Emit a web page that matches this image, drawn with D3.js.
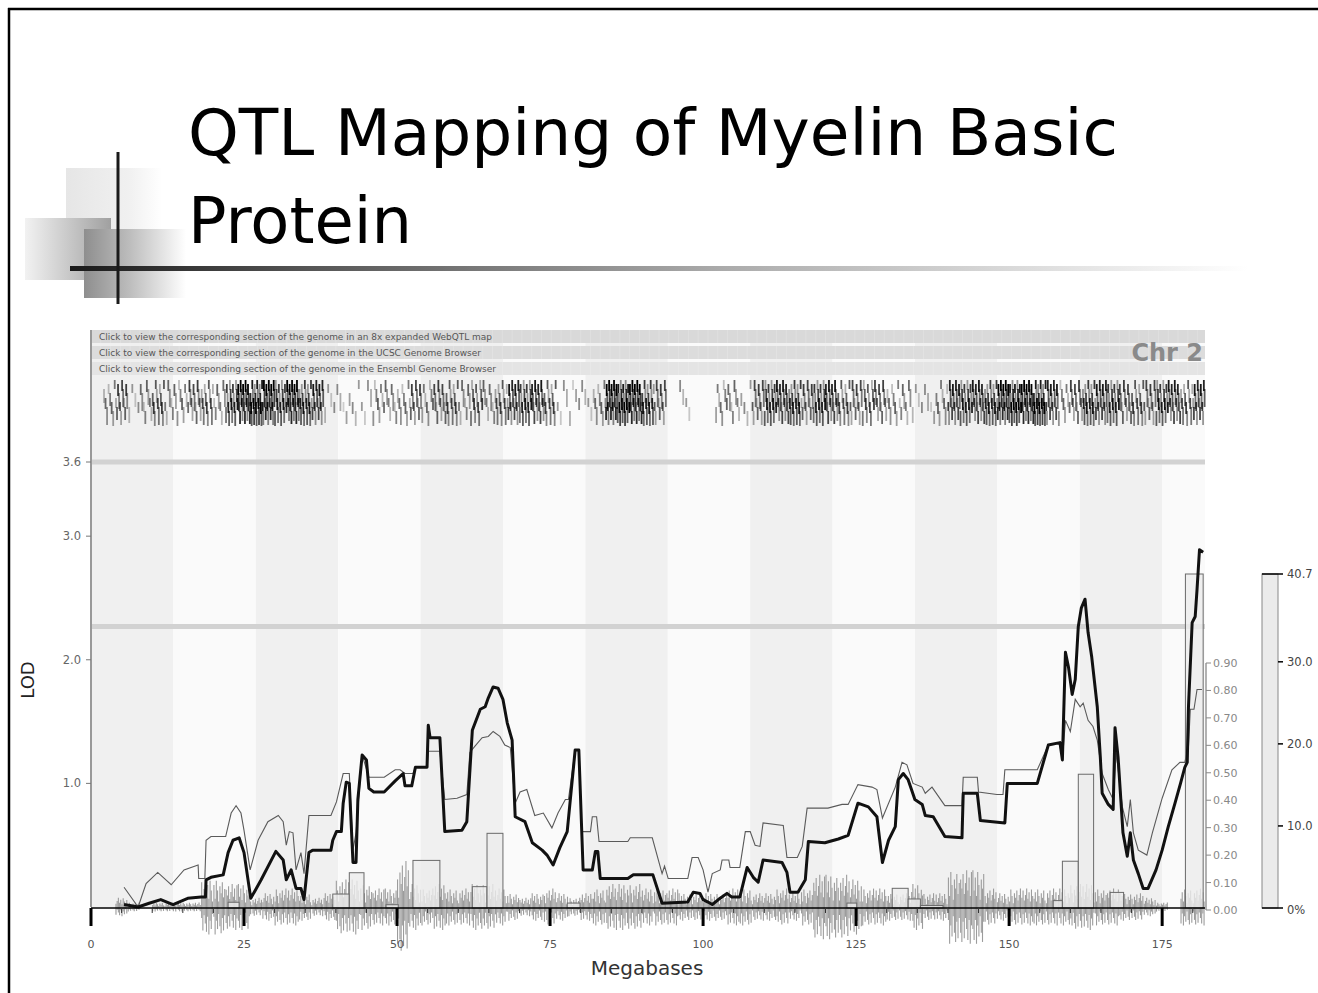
<!DOCTYPE html>
<html lang="en">
<head>
<meta charset="UTF-8">
<title>QTL Mapping of Myelin Basic Protein</title>
<style>
  html, body { margin: 0; padding: 0; background: #fff; }
  svg { display: block; }
  text { font-family: "DejaVu Sans", Verdana, sans-serif; }
</style>
</head>
<body>
<svg id="slide" width="1318" height="993"></svg>
<script src="https://cdnjs.cloudflare.com/ajax/libs/d3/7.8.5/d3.min.js"></script>
<script>
// ---- data ----
const titleLines = ['QTL Mapping of Myelin Basic', 'Protein']
const linkLabels = [
  'Click to view the corresponding section of the genome in an 8x expanded WebQTL map',
  'Click to view the corresponding section of the genome in the UCSC Genome Browser',
  'Click to view the corresponding section of the genome in the Ensembl Genome Browser'
]
const chrLabel = 'Chr 2'
const chrLength = 182
const mbTicks = [0, 25, 50, 75, 100, 125, 150, 175]
const lodTicks = [1.0, 2.0, 3.0, 3.6]
const thresholds = [3.6, 2.27]
const addTicks = [0, 0.1, 0.2, 0.3, 0.4, 0.5, 0.6, 0.7, 0.8, 0.9]
const bootTicks = [0, 10, 20, 30, 40.7]

// thick line: [Mb, LOD]
const lodTrace = [[5.4,0.02],[7.7,0],[9.5,0.03],[11.4,0.06],[13.4,0.02],[15.8,0.07],[18.0,0.08],[18.7,0.08],[18.8,0.22],[19.6,0.24],[21.6,0.26],[22.4,0.44],[23.2,0.54],[24.2,0.56],[25.0,0.44],[26.1,0.07],[27.8,0.22],[30.2,0.45],[31.4,0.38],[31.9,0.22],[32.7,0.30],[33.5,0.15],[34.3,0.15],[34.8,0.06],[35.6,0.44],[36.2,0.46],[39.2,0.46],[39.5,0.54],[40.1,0.61],[40.9,0.61],[41.2,0.84],[41.7,1.01],[42.2,1.0],[42.8,0.36],[43.3,0.36],[43.6,0.87],[44.3,1.23],[45.0,1.19],[45.4,0.96],[46.2,0.93],[47.9,0.93],[49.7,1.02],[51.0,1.08],[51.3,0.98],[52.4,0.98],[53.0,1.13],[54.9,1.13],[55.1,1.47],[55.4,1.37],[57.0,1.37],[57.8,0.61],[60.6,0.62],[61.4,0.69],[62.3,1.43],[63.6,1.6],[64.4,1.62],[64.9,1.69],[65.7,1.78],[66.5,1.77],[67.3,1.68],[68.0,1.49],[68.8,1.35],[69.3,0.73],[70.9,0.69],[72.1,0.52],[73.7,0.46],[74.5,0.42],[75.5,0.34],[76.6,0.48],[77.8,0.61],[79.1,1.27],[79.7,1.27],[80.4,0.30],[81.9,0.30],[82.4,0.45],[82.8,0.45],[83.2,0.23],[87.7,0.23],[88.6,0.26],[91.8,0.26],[93.3,0.03],[97.5,0.04],[98.4,0.12],[99.5,0.11],[100.0,0.06],[100.8,0.04],[101.5,0.02],[102.5,0.06],[103.9,0.11],[104.7,0.08],[106.0,0.08],[107.2,0.32],[108.2,0.24],[109.0,0.20],[109.8,0.38],[112.9,0.36],[113.7,0.28],[114.2,0.12],[115.5,0.12],[116.7,0.22],[117.2,0.53],[119.9,0.52],[122.1,0.55],[123.7,0.58],[125.3,0.84],[127.0,0.81],[128.4,0.73],[129.3,0.36],[130.3,0.54],[131.4,0.65],[131.9,1.03],[132.7,1.08],[133.5,1.03],[134.6,0.87],[135.8,0.83],[136.3,0.74],[137.6,0.73],[139.5,0.57],[142.3,0.56],[142.5,0.92],[144.8,0.92],[145.3,0.70],[149.3,0.68],[149.7,1.0],[154.6,1.0],[156.4,1.31],[158.3,1.33],[158.7,1.19],[159.2,2.06],[159.7,1.94],[160.3,1.72],[160.8,1.84],[161.3,2.27],[161.8,2.42],[162.4,2.49],[162.9,2.22],[163.5,2.02],[164.4,1.62],[164.9,1.21],[165.2,0.92],[166.2,0.83],[167.0,0.79],[167.3,1.45],[167.8,1.21],[168.6,0.60],[169.3,0.41],[169.8,0.60],[170.3,0.38],[171.1,0.27],[171.9,0.15],[172.7,0.15],[174.0,0.30],[175.0,0.46],[176.0,0.65],[177.1,0.84],[178.0,1.0],[178.7,1.13],[179.1,1.17],[179.3,1.62],[179.9,2.30],[180.4,2.35],[180.7,2.57],[181.1,2.89],[181.7,2.87]]

// thin line: [Mb, LOD]
const thinTrace = [[5.4,0.16],[7.7,0.0],[9.0,0.19],[10.9,0.28],[13.1,0.18],[15.2,0.30],[17.5,0.34],[17.6,0.23],[18.6,0.23],[18.8,0.54],[19.6,0.57],[22.0,0.57],[22.9,0.76],[23.7,0.82],[24.5,0.76],[25.0,0.62],[26.0,0.30],[27.3,0.54],[28.9,0.69],[30.6,0.74],[31.4,0.69],[31.9,0.50],[32.4,0.61],[33.0,0.60],[33.5,0.30],[34.3,0.44],[34.8,0.27],[35.6,0.74],[39.2,0.74],[40.1,0.85],[41.2,1.08],[42.2,1.08],[42.8,0.46],[43.3,0.60],[44.3,1.23],[45.4,1.05],[47.9,1.05],[49.7,1.11],[50.5,1.11],[51.3,1.08],[52.6,1.08],[53.0,1.13],[54.9,1.13],[55.1,1.26],[57.0,1.26],[57.8,0.87],[59.8,0.88],[61.4,0.91],[61.9,1.25],[62.7,1.30],[63.9,1.37],[64.9,1.38],[65.7,1.42],[66.8,1.38],[67.6,1.31],[68.5,1.29],[69.3,0.84],[70.1,0.93],[71.2,0.95],[72.5,0.74],[73.9,0.76],[75.3,0.64],[76.3,0.76],[77.5,0.87],[78.0,0.87],[79.1,1.27],[79.7,1.27],[80.2,0.61],[81.6,0.61],[81.9,0.73],[82.6,0.73],[83.0,0.53],[87.7,0.53],[88.1,0.56],[91.7,0.56],[93.3,0.27],[93.7,0.33],[94.3,0.23],[97.5,0.23],[98.2,0.40],[99.2,0.40],[100.0,0.30],[100.8,0.12],[101.5,0.27],[102.8,0.30],[103.1,0.38],[104.2,0.38],[104.4,0.32],[106.0,0.32],[106.9,0.61],[107.7,0.61],[108.5,0.50],[109.3,0.49],[109.8,0.68],[113.1,0.66],[113.7,0.40],[115.4,0.40],[116.2,0.49],[117.0,0.80],[120.4,0.80],[122.7,0.83],[123.7,0.83],[125.3,0.99],[127.6,0.97],[128.4,0.95],[129.3,0.72],[131.4,0.97],[132.5,1.17],[133.3,1.15],[134.3,1.00],[135.8,0.97],[136.3,0.92],[137.4,0.97],[139.5,0.82],[142.3,0.82],[142.5,1.05],[144.8,1.05],[145.0,0.93],[148.0,0.91],[149.0,0.91],[149.3,1.11],[154.6,1.11],[156.4,1.31],[158.3,1.33],[158.7,1.19],[159.2,1.51],[160.0,1.42],[160.8,1.68],[161.6,1.62],[162.1,1.65],[162.9,1.51],[163.7,1.46],[164.4,1.35],[165.2,1.08],[166.2,0.95],[167.0,0.87],[167.5,1.25],[168.5,0.81],[169.3,0.65],[169.8,0.87],[170.3,0.60],[171.1,0.46],[172.5,0.42],[173.4,0.60],[175.0,0.88],[176.6,1.11],[177.9,1.17],[178.7,1.17],[179.3,1.30],[179.6,1.60],[180.2,1.60],[180.7,1.76],[181.5,1.76]]

// bootstrap histogram: [start Mb, end Mb, percent]
const bootBars = [[22.4,24.2,0.7],[39.5,42.2,1.7],[42.2,44.6,4.3],[48.2,50.2,0.4],[52.6,57.0,5.8],[62.3,64.7,2.6],[64.7,67.3,9.1],[77.8,79.9,0.6],[123.5,125.1,0.6],[130.9,133.5,2.4],[133.5,135.5,1.1],[135.5,139.2,0.3],[157.2,158.7,0.9],[158.7,161.3,5.7],[161.3,163.8,16.3],[166.5,168.7,1.9],[178.8,181.7,40.7]]

// gene density per 2 Mb bin (0-5), read from the gene track
const geneDensity = [0,2,3,1,2,3,2,2,3,3,2,4,5,5,5,4,5,4,4,1,1,1,1,2,2,2,3,2,3,3,2,3,2,3,4,4,4,3,1,1,1,2,5,5,5,4,3,0,1,0,0,2,2,1,3,4,4,4,3,4,4,3,3,3,3,2,2,1,1,2,4,4,4,4,5,5,5,5,4,2,3,4,4,4,3,3,3,4,4,3,4]

// SNP seismograph amplitude per 2 Mb bin (0-10)
const snpAmp = [0,0,2,1,0,1,1,1,1,6,6,5,5,2,3,4,4,3,2,3,6,6,5,4,4,10,5,4,5,4,4,5,5,4,3,2,3,4,3,2,3,4,5,5,5,4,4,4,3,3,3,3,4,4,3,3,4,3,4,7,7,7,6,4,4,3,3,5,3,3,8,8,8,4,3,4,4,4,4,4,5,5,4,4,3,3,2,1,0,4,4]

// ---- layout ----
const svg = d3.select('#slide')
const plot = { left: 91, right: 1205, top: 330, bottom: 907 }

const x = d3.scaleLinear().domain([0, chrLength]).range([plot.left, plot.right])
const y = d3.scaleLinear().domain([0, 3.6]).range([plot.bottom, 462])
const yAdd = d3.scaleLinear().domain([0, 0.9]).range([910, 663])
const yBoot = d3.scaleLinear().domain([0, 40.7]).range([908, 574])
const snpScale = d3.scaleLinear().domain([0, 10]).range([0, 46])

const defs = svg.append('defs')
function grad(id, stops) {
  const g = defs.append('linearGradient').attr('id', id)
    .attr('x1', '0%').attr('x2', '100%').attr('y1', '0%').attr('y2', '0%')
  stops.forEach(s => g.append('stop').attr('offset', s[0]).attr('stop-color', s[1]))
}
grad('gLight', [['0%', '#e6e6e6'], ['65%', '#f0f0f0'], ['100%', '#ffffff']])
grad('gMid', [['0%', '#f2f2f2'], ['100%', '#a0a0a0']])
grad('gDark', [['0%', '#8e8e8e'], ['45%', '#bdbdbd'], ['100%', '#ffffff']])
grad('gRule', [['0%', '#1a1a1a'], ['20%', '#555'], ['55%', '#aaa'], ['100%', '#ffffff']])

// slide frame
svg.append('line').attr('x1', 8).attr('x2', 1318).attr('y1', 9).attr('y2', 9)
  .attr('stroke', '#000').attr('stroke-width', 2.5)
svg.append('line').attr('x1', 9).attr('x2', 9).attr('y1', 8).attr('y2', 993)
  .attr('stroke', '#000').attr('stroke-width', 2.5)

// decoration
svg.append('rect').attr('x', 66).attr('y', 168).attr('width', 96).attr('height', 110).attr('fill', 'url(#gLight)')
svg.append('rect').attr('x', 25).attr('y', 218).attr('width', 86).attr('height', 62).attr('fill', 'url(#gMid)')
svg.append('rect').attr('x', 84).attr('y', 229).attr('width', 102).attr('height', 69).attr('fill', 'url(#gDark)')
svg.append('rect').attr('x', 70).attr('y', 266).attr('width', 1178).attr('height', 5).attr('fill', 'url(#gRule)')
svg.append('line').attr('x1', 118).attr('x2', 118).attr('y1', 152).attr('y2', 304)
  .attr('stroke', '#1a1a1a').attr('stroke-width', 3)

// title
svg.selectAll('.title').data(titleLines).enter().append('text')
  .attr('class', 'title')
  .attr('x', 188)
  .attr('y', (d, i) => 155 + i * 88)
  .attr('font-size', 64)
  .attr('fill', '#000')
  .attr('textLength', (d, i) => i === 0 ? 930 : 224)
  .attr('lengthAdjust', 'spacingAndGlyphs')
  .text(d => d)

// ---- chart ----
const chart = svg.append('g')

// alternating background bands
const bandW = chrLength / 13.52
const bands = d3.range(Math.ceil(chrLength / bandW)).map(i => [i * bandW, Math.min(chrLength, (i + 1) * bandW)])
chart.selectAll('.band').data(bands).enter().append('rect')
  .attr('x', d => x(d[0])).attr('width', d => x(d[1]) - x(d[0]))
  .attr('y', plot.top).attr('height', plot.bottom - plot.top)
  .attr('fill', (d, i) => i % 2 ? '#fafafa' : '#f0f0f0')

// link bars
const linkFill = ['#d9d9d9', '#dcdcdc', '#e4e4e4']
const linkWidth = [393, 382, 397]
linkLabels.forEach((t, i) => {
  const top = plot.top + i * 16
  chart.append('rect').attr('x', plot.left).attr('y', top)
    .attr('width', plot.right - plot.left).attr('height', 13).attr('fill', linkFill[i])
  chart.selectAll('.ls' + i).data(d3.range(0, chrLength, 1.6)).enter().append('line')
    .attr('x1', d => x(d)).attr('x2', d => x(d)).attr('y1', top).attr('y2', top + 13)
    .attr('stroke', '#ffffff').attr('stroke-opacity', 0.18).attr('stroke-width', 1)
  chart.append('text').attr('x', plot.left + 8).attr('y', top + 9.5)
    .attr('font-size', 8.4).attr('fill', '#555')
    .attr('textLength', linkWidth[i]).attr('lengthAdjust', 'spacingAndGlyphs').text(t)
})
chart.append('text').attr('x', plot.right - 2).attr('y', 361)
  .attr('text-anchor', 'end').attr('font-size', 24).attr('font-weight', 'bold')
  .attr('fill', '#8a8a8a').text(chrLabel)

// gene track (density as staggered gene ticks)
const geneG = chart.append('g')
const gRow = [0, 9, 18, 27, 4, 13, 22, 31]
const gLen = [12, 16, 9, 14, 11, 18, 10, 13]
const gShade = [1, 0.6, 0.85, 0.45, 0.95, 0.7, 0.4, 0.8]
geneDensity.forEach((d, i) => {
  const n = d * 4
  const x0 = x(i * 2), x1 = x(Math.min(chrLength, i * 2 + 2))
  for (let k = 0; k < n; k++) {
    const p = (k + i * 3) % gRow.length
    const gx = x0 + (k + 0.5) * (x1 - x0) / n
    const gy = 380 + gRow[(k + i) % gRow.length]
    geneG.append('line')
      .attr('x1', gx).attr('x2', gx).attr('y1', gy).attr('y2', Math.min(426, gy + gLen[p]))
      .attr('stroke', '#000').attr('stroke-width', 1.8)
      .attr('stroke-opacity', Math.min(1, (0.3 + d * 0.15) * gShade[p]))
  }
})

// threshold lines
chart.selectAll('.thr').data(thresholds).enter().append('line')
  .attr('x1', plot.left).attr('x2', plot.right)
  .attr('y1', d => y(d)).attr('y2', d => y(d))
  .attr('stroke', '#d2d2d2').attr('stroke-width', 5)

// SNP seismograph
const upPat = [1, 0.45, 0.8, 0.3, 0.95, 0.6, 0.2, 0.75, 0.5, 0.9, 0.35, 0.65]
const dnPat = [0.6, 0.9, 0.35, 1, 0.5, 0.8, 0.25, 0.7, 0.95, 0.4, 0.85, 0.3]
const snpG = chart.append('g')
snpAmp.forEach((a, i) => {
  if (!a) return
  const x0 = x(i * 2), x1 = x(Math.min(chrLength, i * 2 + 2))
  let j = 0
  for (let px = x0 + 0.5; px < x1; px += 1.2, j++) {
    const p = (j + i * 5) % upPat.length
    snpG.append('line').attr('x1', px).attr('x2', px)
      .attr('y1', plot.bottom - snpScale(a) * upPat[p])
      .attr('y2', plot.bottom + snpScale(a) * dnPat[p])
      .attr('stroke', '#9c9c9c').attr('stroke-width', 1.1)
  }
})

// bootstrap bars
chart.selectAll('.boot').data(bootBars).enter().append('rect')
  .attr('x', d => x(d[0])).attr('width', d => x(d[1]) - x(d[0]))
  .attr('y', d => yBoot(d[2])).attr('height', d => yBoot(0) - yBoot(d[2]))
  .attr('fill', '#ececec').attr('fill-opacity', 0.8)
  .attr('stroke', '#6a6a6a').attr('stroke-width', 1)

// LOD curves
const line = d3.line().x(d => x(d[0])).y(d => y(d[1]))
chart.append('path').datum(thinTrace).attr('d', line)
  .attr('fill', 'none').attr('stroke', '#5a5a5a').attr('stroke-width', 1.1)
chart.append('path').datum(lodTrace).attr('d', line)
  .attr('fill', 'none').attr('stroke', '#111').attr('stroke-width', 3)
  .attr('stroke-linejoin', 'round')

// left LOD axis
const yAxis = chart.append('g').attr('transform', `translate(${plot.left},0)`)
yAxis.append('line').attr('y1', plot.top).attr('y2', plot.bottom).attr('stroke', '#999').attr('stroke-width', 2)
yAxis.selectAll('.yt').data(lodTicks).enter().append('line')
  .attr('x1', -5).attr('x2', 0).attr('y1', d => y(d)).attr('y2', d => y(d)).attr('stroke', '#777')
yAxis.selectAll('.yl').data(lodTicks).enter().append('text')
  .attr('x', -10).attr('y', d => y(d) + 4).attr('text-anchor', 'end')
  .attr('font-size', 11.5).attr('fill', '#666').text(d => d.toFixed(1))
svg.append('text').attr('transform', 'translate(34,680) rotate(-90)')
  .attr('text-anchor', 'middle').attr('font-size', 18).attr('fill', '#222').text('LOD')

// bottom Mb axis
const xAxis = chart.append('g')
xAxis.append('line').attr('x1', plot.left).attr('x2', plot.right)
  .attr('y1', plot.bottom + 1).attr('y2', plot.bottom + 1).attr('stroke', '#000').attr('stroke-width', 1.5)
xAxis.selectAll('.xm').data(d3.range(0, chrLength, 5).filter(d => d % 25)).enter().append('line')
  .attr('x1', d => x(d)).attr('x2', d => x(d))
  .attr('y1', plot.bottom + 1).attr('y2', plot.bottom + 6).attr('stroke', '#333')
xAxis.selectAll('.xt').data(mbTicks).enter().append('line')
  .attr('x1', d => x(d)).attr('x2', d => x(d))
  .attr('y1', plot.bottom + 1).attr('y2', plot.bottom + 19).attr('stroke', '#000').attr('stroke-width', 3)
xAxis.selectAll('.xl').data(mbTicks).enter().append('text')
  .attr('x', d => x(d)).attr('y', plot.bottom + 41).attr('text-anchor', 'middle')
  .attr('font-size', 11).attr('fill', '#555').text(d => d)
svg.append('text').attr('x', 647).attr('y', 975).attr('text-anchor', 'middle')
  .attr('font-size', 20).attr('fill', '#333').text('Megabases')

// right additive-effect axis
const addAxis = chart.append('g').attr('transform', `translate(${plot.right + 1},0)`)
addAxis.append('line').attr('y1', yAdd(0.9)).attr('y2', yAdd(0)).attr('stroke', '#999').attr('stroke-width', 1.5)
addAxis.selectAll('.at').data(addTicks).enter().append('line')
  .attr('x1', 0).attr('x2', 5).attr('y1', d => yAdd(d)).attr('y2', d => yAdd(d)).attr('stroke', '#888')
addAxis.selectAll('.al').data(addTicks).enter().append('text')
  .attr('x', 7).attr('y', d => yAdd(d) + 4)
  .attr('font-size', 11).attr('fill', '#888').text(d => d.toFixed(2))

// bootstrap scale bar
const bx = 1262
const bootAxis = chart.append('g')
bootAxis.append('rect').attr('x', bx).attr('y', yBoot(40.7)).attr('width', 16)
  .attr('height', yBoot(0) - yBoot(40.7)).attr('fill', '#ebebeb').attr('stroke', '#888')
bootAxis.selectAll('.bt').data(bootTicks).enter().append('line')
  .attr('x1', d => (d === 0 || d === 40.7) ? bx : bx + 16).attr('x2', bx + 21)
  .attr('y1', d => yBoot(d)).attr('y2', d => yBoot(d)).attr('stroke', '#000').attr('stroke-width', 1.5)
bootAxis.selectAll('.bl').data(bootTicks).enter().append('text')
  .attr('x', bx + 25).attr('y', d => yBoot(d) + (d === 0 ? 6 : 4))
  .attr('font-size', 11.5).attr('fill', '#444')
  .text(d => d === 0 ? '0%' : d.toFixed(1))
</script>
</body>
</html>
